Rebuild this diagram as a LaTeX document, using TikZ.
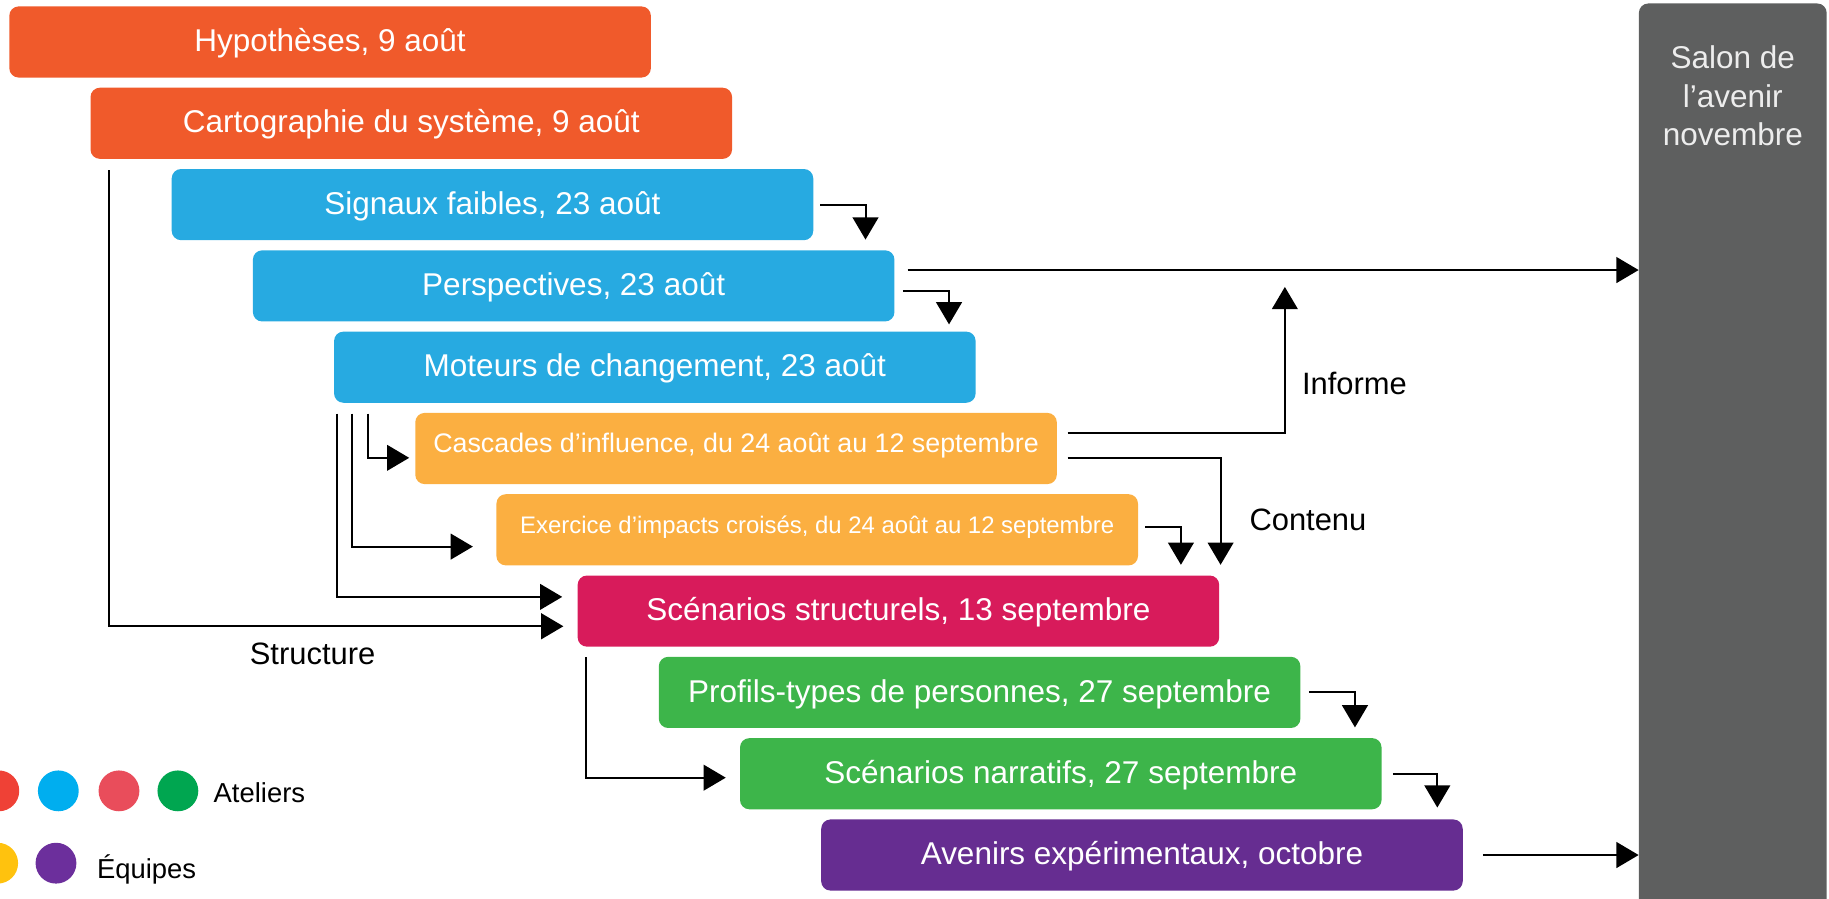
\documentclass[tikz,border=0pt]{standalone}
\usepackage{fontspec}
\setmainfont{Liberation Sans}
\usetikzlibrary{arrows.meta}

\definecolor{hypred}{HTML}{F05A2B}
\definecolor{sigblue}{HTML}{27AAE1}
\definecolor{cascorange}{HTML}{FBAF41}
\definecolor{scenred}{HTML}{D81B5B}
\definecolor{profgreen}{HTML}{3DB54A}
\definecolor{avenpurple}{HTML}{662D91}
\definecolor{salongray}{HTML}{5E5F5F}
\definecolor{salontext}{HTML}{EDEDED}
\definecolor{legred}{HTML}{EF4136}
\definecolor{legblue}{HTML}{00AEEF}
\definecolor{legpink}{HTML}{E94D5B}
\definecolor{leggreen}{HTML}{00A650}
\definecolor{legyellow}{HTML}{FFC20E}
\definecolor{legpurple}{HTML}{6C2F9C}

\begin{document}
\begin{tikzpicture}[x=1pt, y=-1pt, stage/.style={rectangle, rounded
      corners=8pt, minimum width=550pt, minimum height=61pt, inner sep=0pt,
      text=white, font=\fontsize{27pt}{33pt}\selectfont, text height=22pt,
      text depth=5.5pt}, smallstage/.style={stage,
      font=\fontsize{23pt}{28pt}\selectfont, text height=12pt, text
      depth=5.4pt}, flow/.style={line width=1.7pt,
      -{Triangle[length=19pt,width=22pt]}}, dot/.style={circle, minimum
      size=35pt, inner sep=0pt}, note/.style={inner sep=0pt,
      font=\fontsize{26.5pt}{32pt}\selectfont}, ]
    \useasboundingbox (0,0) rectangle (1568,770);

    % Salon
    \node[rectangle, rounded corners=8pt, fill=salongray, minimum width=161pt,
    minimum height=797pt, inner sep=0pt] (salon) at (1485.5,401.5) {};
    \node[note, text=salontext, align=center, anchor=north,
    font=\fontsize{27pt}{33pt}\selectfont] (salontxt) at (1485.5,39)
    {Salon de\\l’avenir\\novembre};

    % Workshops and teams
    \node[stage, fill=hypred] (hyp) at (283,36) {Hypothèses, 9 août};
    \node[stage, fill=hypred] (carto) at (352.6,105.7) {Cartographie du
    système, 9 août}; \node[stage, fill=sigblue] (sig) at (422.2,175.4)
    {Signaux faibles, 23 août}; \node[stage, fill=sigblue] (persp) at
    (491.8,245.1) {Perspectives, 23 août}; \node[stage, fill=sigblue] (mot) at
    (561.4,314.8) {Moteurs de changement, 23 août};
    \node[smallstage, fill=cascorange] (casc) at (631,384.5) {Cascades
    d’influence, du 24 août au 12 septembre}; \node[smallstage,
    fill=cascorange, font=\fontsize{20.5pt}{25pt}\selectfont, text
    height=11pt] (exer) at (700.6,454.2) {Exercice d’impacts croisés, du 24
    août au 12 septembre};
    \node[stage, fill=scenred] (struct) at (770.2,523.9) {Scénarios
    structurels, 13 septembre}; \node[stage, fill=profgreen] (prof) at
    (839.8,593.6) {Profils-types de personnes, 27 septembre}; \node[stage,
    fill=profgreen] (narr) at (909.4,663.3) {Scénarios narratifs, 27
    septembre}; \node[stage, fill=avenpurple] (aven) at (979,733) {Avenirs
    expérimentaux, octobre};

    % Step arrows
    \draw[flow, shorten >=9pt] ([xshift=6pt]sig.east) -|
    ([xshift=-25pt]persp.north east); \draw[flow, shorten >=6pt]
    ([xshift=7pt,yshift=-4pt]persp.east) -| ([xshift=-23pt]mot.north east);
    \draw[flow, shorten >=9pt] ([xshift=6pt,yshift=2.7pt]exer.east) -|
    ([xshift=-33pt]struct.north east); \draw[flow, shorten >=9pt]
    ([xshift=7pt]prof.east) -| ([xshift=-23pt]narr.north east); \draw[flow,
    shorten >=10pt] ([xshift=9.4pt]narr.east) -| ([xshift=-22pt]aven.north
    east);

    % To the salon
    \draw[flow] ([xshift=11pt,yshift=13.6pt]persp.east) coordinate (out) --
    (out -| salon.west); \draw[flow] ([xshift=17pt]aven.east) -- (aven.east -|
    salon.west);

    % Informe and contenu
    \coordinate (inf) at (1101.5,246);
    \draw[flow] ([xshift=9pt,yshift=13.5pt]casc.east) -| (inf);
    \node[note, anchor=west] (informe) at (1116,328.5) {Informe};
    \draw[flow, shorten >=9pt] ([xshift=9pt,yshift=-8pt]casc.east) -|
    ([xshift=1pt]struct.north east); \node[note, anchor=west] (contenu) at
    (1071,445.3) {Contenu};

    % Lines from the drivers
    \draw[flow, shorten >=5pt] ([xshift=29pt,yshift=-9pt]mot.south west) |-
    ([yshift=-8pt]casc.west); \draw[flow, shorten >=20pt]
    ([xshift=15.6pt,yshift=-9pt]mot.south west) |- ([yshift=-14.4pt]exer.west);
    \draw[flow, shorten >=13pt] ([xshift=2.6pt,yshift=-9pt]mot.south west) |-
    ([yshift=12.2pt]struct.west);

    % Structure
    \draw[flow, shorten >=12pt] ([xshift=16.4pt,yshift=-9.5pt]carto.south west)
    |- ([yshift=-13pt]struct.west); \node[note, anchor=west] (structure) at
    (214,560.3) {Structure};
    \draw[flow, shorten >=12pt] ([xshift=7.6pt,yshift=-9pt]struct.south west)
    |- ([yshift=-3.4pt]narr.west);

    % Legend
    \node[dot, fill=legred] (atred) at (-1,678) {}; \node[dot, fill=legblue]
    (atblue) at (50,678) {}; \node[dot, fill=legpink] (atpink) at (102,678) {};
    \node[dot, fill=leggreen] (atgreen) at (152.5,678) {};
    \node[dot, fill=legyellow] (eqyellow) at (-2,740) {}; \node[dot,
    fill=legpurple] (eqpurple) at (48,740) {};
    \node[inner sep=0pt, anchor=base west, font=\fontsize{23.5pt}{28pt}\selectfont]
    (ateliers) at (183,687.7) {Ateliers}; \node[inner sep=0pt, anchor=base
    west, font=\fontsize{23.5pt}{28pt}\selectfont] (equipes) at (83,752.8)
    {Équipes};

\end{tikzpicture}
\end{document}
